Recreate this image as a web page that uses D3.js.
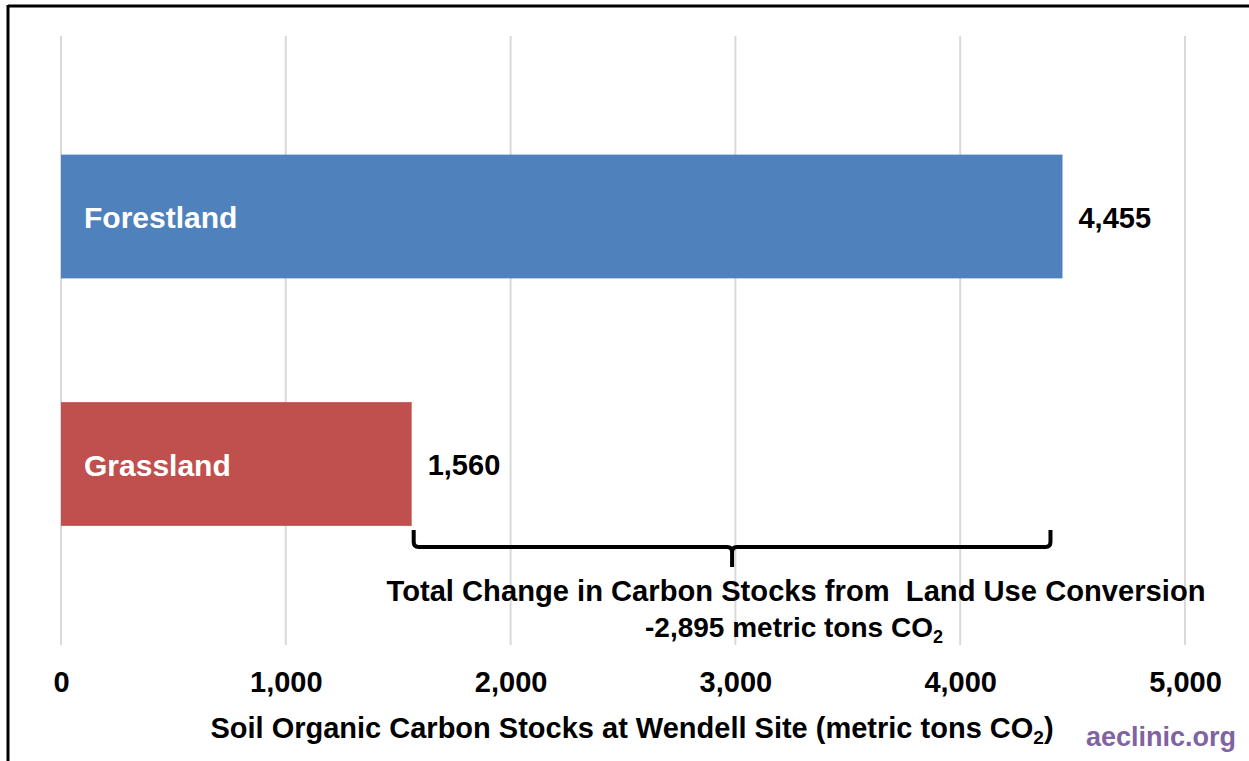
<!DOCTYPE html>
<html>
<head>
<meta charset="utf-8">
<script src="https://cdn.jsdelivr.net/npm/d3@7"></script>
<style>
  html, body { margin: 0; padding: 0; background: #fff; }
  svg { display: block; }
  text { font-family: "Liberation Sans", Arial, sans-serif; font-weight: bold; }
</style>
</head>
<body>
<svg id="chart" width="1249" height="761"></svg>
<script>
// Soil organic carbon stocks by land cover (metric tons CO2)
const categories = ["Forestland", "Grassland"];
const stockValues = [4455, 1560];
const barColors = ["#4f81bd", "#c0504d"];
const tickValues = [0, 1000, 2000, 3000, 4000, 5000];
const changeValue = -2895;

const svg = d3.select("#chart");
const W = 1249, H = 761;

// frame lines (top and left)
svg.append("line").attr("x1", 8).attr("x2", W).attr("y1", 6).attr("y2", 6)
  .attr("stroke", "#000").attr("stroke-width", 3);
svg.append("line").attr("x1", 8).attr("x2", 8).attr("y1", 5).attr("y2", H)
  .attr("stroke", "#000").attr("stroke-width", 3);

const x = d3.scaleLinear().domain([0, 5000]).range([61, 1185]);
const y = d3.scaleBand().domain(categories).range([92.75, 587.75])
  .paddingInner(0.5).paddingOuter(0.25);

const gridTop = 36, gridBottom = 645;

// vertical gridlines
svg.append("g").selectAll("line").data(tickValues).join("line")
  .attr("x1", d => x(d)).attr("x2", d => x(d))
  .attr("y1", gridTop).attr("y2", gridBottom)
  .attr("stroke", "#d9d9d9").attr("stroke-width", 2);

// bars
svg.append("g").selectAll("rect").data(categories).join("rect")
  .attr("x", x(0))
  .attr("y", d => y(d))
  .attr("width", (d, i) => x(stockValues[i]) - x(0))
  .attr("height", y.bandwidth())
  .attr("fill", (d, i) => barColors[i]);

// category names inside bars
svg.append("g").selectAll("text").data(categories).join("text")
  .attr("x", x(0) + 23)
  .attr("y", d => y(d) + y.bandwidth() / 2 + 1)
  .attr("dy", "0.36em")
  .attr("fill", "#fff")
  .attr("font-size", 30)
  .text(d => d);

// value labels
const fmt = d3.formatLocale({ decimal: ".", thousands: ",", grouping: [3], currency: ["", ""], minus: "-" }).format(",");
svg.append("g").selectAll("text").data(categories).join("text")
  .attr("x", (d, i) => x(stockValues[i]) + 16)
  .attr("y", d => y(d) + y.bandwidth() / 2 + 1)
  .attr("dy", "0.36em")
  .attr("fill", "#000")
  .attr("font-size", 29)
  .text((d, i) => fmt(stockValues[i]));

// x axis tick labels
const axis = d3.axisBottom(x).tickValues(tickValues).tickFormat(fmt).tickSize(0).tickPadding(0);
const axisG = svg.append("g").attr("transform", "translate(0,671)").call(axis);
axisG.select(".domain").remove();
axisG.selectAll("text")
  .attr("font-size", 29)
  .attr("fill", "#000")
  .attr("font-family", "'Liberation Sans', Arial, sans-serif")
  .attr("font-weight", "bold");

// axis title
const title = svg.append("text")
  .attr("x", 632).attr("y", 738)
  .attr("text-anchor", "middle")
  .attr("font-size", 29)
  .attr("fill", "#000");
title.append("tspan").text("Soil Organic Carbon Stocks at Wendell Site (metric tons CO");
title.append("tspan").attr("font-size", 19).attr("dy", 6).text("2");
title.append("tspan").attr("dy", -6).text(")");

// bracket spanning the difference between the two stocks
const bx0 = x(stockValues[1]) + 2, bx1 = x(stockValues[0]) - 12;
const bTop = 530, bBase = 547, bTip = 567, r = 5;
const bMid = (bx0 + bx1) / 2;
const bracket = d3.path();
bracket.moveTo(bx0, bTop);
bracket.lineTo(bx0, bBase - r);
bracket.quadraticCurveTo(bx0, bBase, bx0 + r, bBase);
bracket.lineTo(bMid - r, bBase);
bracket.quadraticCurveTo(bMid, bBase, bMid, bBase + r);
bracket.lineTo(bMid, bTip);
bracket.moveTo(bMid, bBase + r);
bracket.quadraticCurveTo(bMid, bBase, bMid + r, bBase);
bracket.lineTo(bx1 - r, bBase);
bracket.quadraticCurveTo(bx1, bBase, bx1, bBase - r);
bracket.lineTo(bx1, bTop);
svg.append("path").attr("d", bracket.toString())
  .attr("fill", "none").attr("stroke", "#000").attr("stroke-width", 4);

// bracket annotation
svg.append("text")
  .attr("x", 796).attr("y", 601)
  .attr("text-anchor", "middle")
  .attr("font-size", 29)
  .attr("textLength", 819)
  .attr("lengthAdjust", "spacingAndGlyphs")
  .attr("fill", "#000")
  .attr("xml:space", "preserve")
  .text("Total Change in Carbon Stocks from  Land Use Conversion");
const note2 = svg.append("text")
  .attr("x", 794).attr("y", 637)
  .attr("text-anchor", "middle")
  .attr("font-size", 28)
  .attr("fill", "#000");
note2.append("tspan").text(fmt(changeValue) + " metric tons CO");
note2.append("tspan").attr("font-size", 18).attr("dy", 6).text("2");

// source
svg.append("text")
  .attr("x", 1236).attr("y", 746)
  .attr("text-anchor", "end")
  .attr("font-family", "Lato, 'Open Sans', sans-serif")
  .attr("font-size", 27)
  .attr("fill", "#8064a2")
  .text("aeclinic.org");
</script>
</body>
</html>
